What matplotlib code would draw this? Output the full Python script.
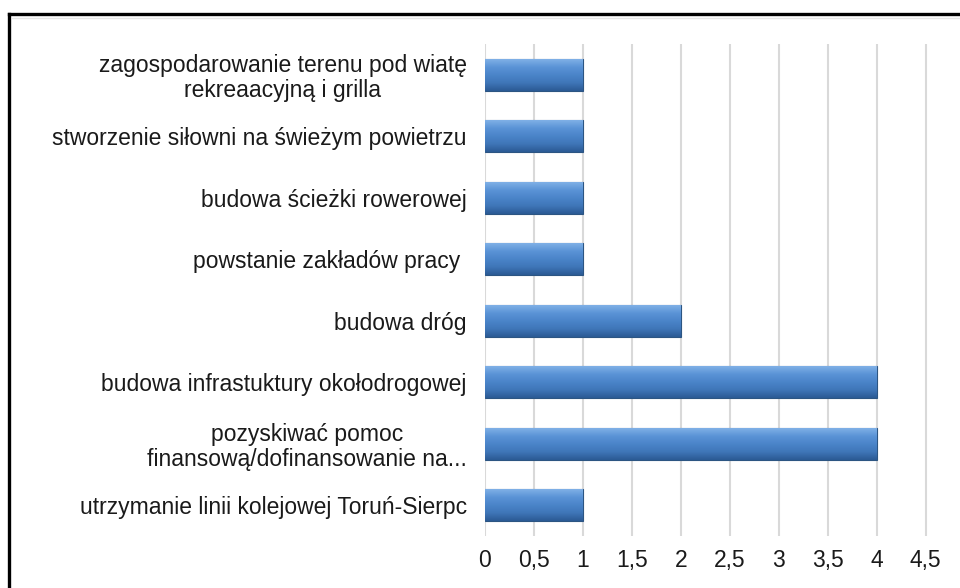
import numpy as np
import matplotlib.pyplot as plt
from matplotlib.colors import LinearSegmentedColormap
from matplotlib.lines import Line2D

plt.rcParams['font.family'] = ['Liberation Sans', 'DejaVu Sans']

categories = [
    'zagospodarowanie terenu pod wiatę\nrekreaacyjną i grilla',
    'stworzenie siłowni na świeżym powietrzu',
    'budowa ścieżki rowerowej',
    'powstanie zakładów pracy ',
    'budowa dróg',
    'budowa infrastuktury okołodrogowej',
    'pozyskiwać pomoc\nfinansową/dofinansowanie na...',
    'utrzymanie linii kolejowej Toruń-Sierpc',
]
values = [1, 1, 1, 1, 2, 4, 4, 1]
xticks = [0, 0.5, 1, 1.5, 2, 2.5, 3, 3.5, 4, 4.5]
xtick_labels = ['0', '0,5', '1', '1,5', '2', '2,5', '3', '3,5', '4', '4,5']

fig = plt.figure(figsize=(9.6, 5.88), dpi=100)
ax = fig.add_axes([0.505, 0.0884, 0.5104, 0.8367])

y = np.arange(len(categories))
bars = ax.barh(y, values, height=0.52, color='#4a7fc0', edgecolor='#2c5582',
               linewidth=0.8, zorder=3)

# bevel-like vertical gradient on each bar
cmap = LinearSegmentedColormap.from_list(
    'bev', ['#7fb0e6', '#5a93d6', '#4a84c9', '#3f76b8', '#2b5a94'])
grad = np.linspace(0, 1, 64).reshape(-1, 1)
for b in bars:
    x0, y0 = b.get_x(), b.get_y()
    w, h = b.get_width(), b.get_height()
    im = ax.imshow(grad, cmap=cmap, aspect='auto', zorder=4,
                   extent=[x0, x0 + w, y0 + h, y0], interpolation='bilinear')
    im.set_clip_path(b)

ax.set_ylim(len(categories) - 0.5, -0.5)
ax.set_xlim(0, 5)
ax.set_yticks(y)
ax.set_yticklabels(categories, fontsize=16.5, color='#1a1a1a', multialignment='center',
                   linespacing=1.1)
ax.set_xticks(xticks)
ax.set_xticklabels(xtick_labels, fontsize=16.5, color='#1a1a1a')
ax.tick_params(axis='y', length=0, pad=13)
ax.tick_params(axis='x', length=0, pad=9)
ax.grid(axis='x', color='#d9d9d9', linewidth=1.5, zorder=0)
for s in ax.spines.values():
    s.set_visible(False)

# outer frame (cropped)
fig.add_artist(Line2D([9 / 960, 1], [1 - 14 / 588, 1 - 14 / 588], color='black', lw=2.4))
fig.add_artist(Line2D([9 / 960, 9 / 960], [0, 1 - 14 / 588], color='black', lw=2.4))
fig.add_artist(Line2D([12 / 960, 1], [1 - 18 / 588, 1 - 18 / 588], color='#e6e6e6', lw=1))

fig.savefig('out.png', dpi=100)
